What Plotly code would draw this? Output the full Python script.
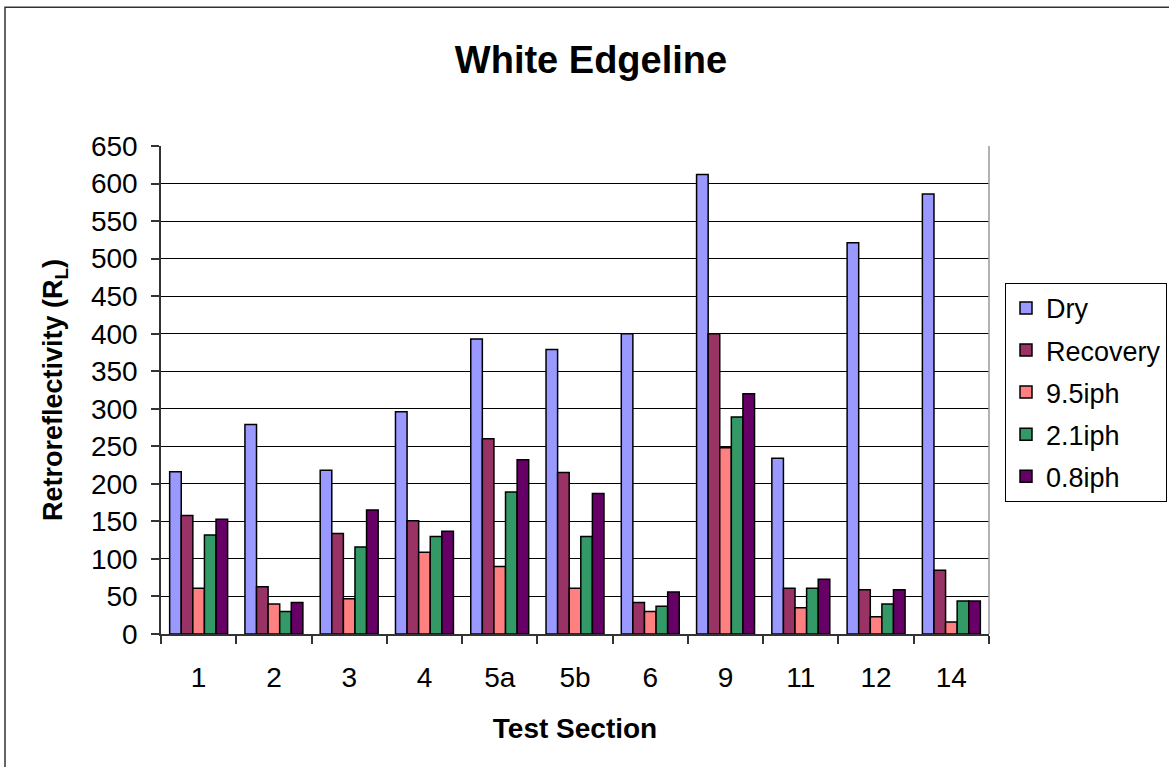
import plotly.graph_objects as go

sections = ["1", "2", "3", "4", "5a", "5b", "6", "9", "11", "12", "14"]
dry =      [216, 279, 218, 296, 393, 379, 400, 612, 234, 521, 586]
recovery = [158,  63, 134, 151, 260, 215,  42, 400,  61,  59,  85]
iph95 =    [ 61,  40,  47, 109,  90,  61,  30, 248,  35,  23,  16]
iph21 =    [132,  30, 116, 130, 189, 130,  37, 289,  61,  40,  44]
iph08 =    [153,  42, 165, 137, 232, 187,  56, 320,  73,  59,  44]

series_names = ["Dry", "Recovery", "9.5iph", "2.1iph", "0.8iph"]
series_vals = [dry, recovery, iph95, iph21, iph08]
colors = ["#9999FF", "#993366", "#FF8080", "#339966", "#660066"]

W, H = 1169, 767
L, R, T, B = 161, 989, 146, 634.5

fig = go.Figure()
for name, vals, col in zip(series_names, series_vals, colors):
    fig.add_trace(go.Bar(
        x=sections, y=vals, name=name, legendgroup=name,
        marker=dict(color=col, line=dict(color="black", width=1.5)),
    ))

font = "Liberation Sans, Arial, sans-serif"

def px_x(p):
    return (p - L) / (R - L)

def px_y(p):
    return (B - p) / (B - T)

fig.update_layout(
    width=W, height=H,
    margin=dict(l=L, r=W - R, t=T, b=H - B, autoexpand=False),
    paper_bgcolor="white", plot_bgcolor="white",
    barmode="group", bargap=0.23, bargroupgap=0,
    font=dict(family=font, size=28, color="black"),
    title=dict(text="<b>White Edgeline</b>", font=dict(size=38, family=font, color="black"),
               x=591 / W, xanchor="center", xref="container",
               y=1 - 60 / H, yanchor="middle", yref="container"),
    showlegend=True,
    legend=dict(
        x=px_x(1005), xanchor="left", y=px_y(283), yanchor="top",
        bordercolor="black", borderwidth=1, bgcolor="white",
        font=dict(size=27, family=font, color="black"),
        tracegroupgap=4, traceorder="grouped",
    ),
    xaxis=dict(
        type="category", tickson="boundaries", ticks="outside", ticklen=8,
        tickcolor="#333", tickwidth=1.5, showline=True, linecolor="#333", linewidth=1.5,
        showgrid=False, ticklabelstandoff=18,
        title=dict(text="<b>Test Section</b>", font=dict(size=28, family=font), standoff=26),
        tickfont=dict(size=28),
    ),
    yaxis=dict(
        range=[0, 650], dtick=50, tick0=0, ticks="outside", ticklen=8,
        tickcolor="#333", tickwidth=1.5, showline=True, linecolor="#333", linewidth=1.5,
        showgrid=True, gridcolor="black", gridwidth=1, zeroline=False,
        ticklabelstandoff=8,
        title=dict(text="<b>Retroreflectivity (R<sub>L</sub>)</b>", font=dict(size=27, family=font), standoff=20),
        tickfont=dict(size=28),
    ),
    shapes=[
        dict(type="line", xref="paper", yref="paper", x0=1, x1=1, y0=0, y1=1,
             line=dict(color="#999999", width=1.5)),
        dict(type="rect", xref="paper", yref="paper",
             x0=px_x(5), x1=px_x(W + 20), y0=px_y(H + 20), y1=px_y(7),
             line=dict(color="#333333", width=1.5), fillcolor="rgba(0,0,0,0)"),
    ],
)

fig.write_html("out.html", config={"displayModeBar": False},
               post_script="document.body.style.margin='0';document.body.style.overflow='hidden';")
